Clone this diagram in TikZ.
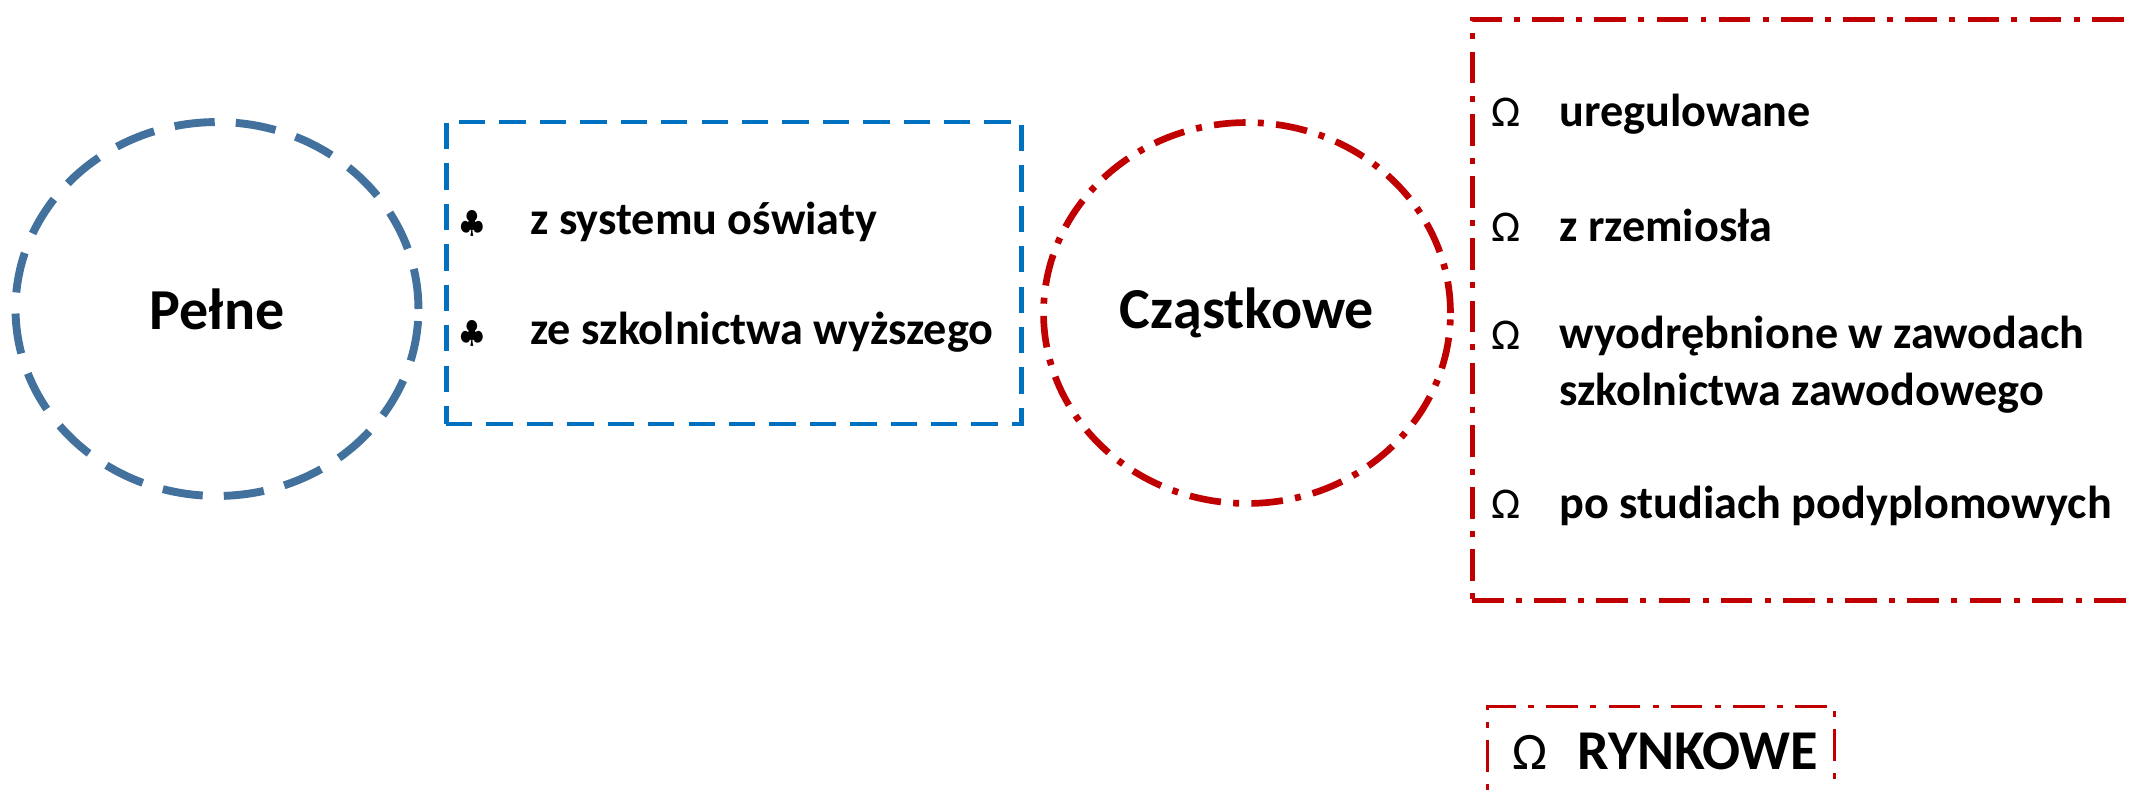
\documentclass[tikz,border=0pt]{standalone}
\usepackage{fontspec}
\setmainfont{Carlito}
\usetikzlibrary{positioning,shapes.geometric}
\definecolor{circblue}{RGB}{65,113,156}
\definecolor{boxblue}{RGB}{0,112,192}
\definecolor{darkred}{RGB}{192,0,0}

\begin{document}
\begin{tikzpicture}[x=0.02cm, y=-0.02cm,
    head/.style={font=\fontsize{33}{40}\selectfont\bfseries},
    item/.style={font=\fontsize{26.3}{32}\selectfont\bfseries, anchor=base west, align=left, inner sep=0pt},
    omark/.style={font=\fontsize{25}{30}\selectfont, anchor=base},
    cmark/.style={font=\fontsize{18}{22}\selectfont, anchor=base},
    reddash/.style={draw=darkred, dash pattern=on 18pt off 7pt on 3.4pt off 7pt}]
    \useasboundingbox (0,0) rectangle (2131,791);
    \clip (0,0) rectangle (2131,791);

    % full qualifications
    \node[ellipse, draw=circblue, line width=4.5pt, dash pattern=on 23pt off 12pt,
          minimum width=8.06cm, minimum height=7.48cm, head] (full) at (217,309) {Pełne};
    \node[rectangle, draw=boxblue, line width=2.8pt, dash pattern=on 15pt off 8pt,
          minimum width=11.52cm, minimum height=6.04cm] (fullbox) at (734,273) {};
    \node[cmark] (c1) at (472,232) {$\clubsuit$};
    \node[item] (school) at (530,234) {z systemu oświaty};
    \node[cmark] (c2) at (472,342) {$\clubsuit$};
    \node[item] (higher) at (530,344) {ze szkolnictwa wyższego};

    % partial qualifications
    \node[ellipse, reddash, line width=3.8pt,
          minimum width=8.14cm, minimum height=7.62cm, head] (part) at (1247,313) {Cząstkowe};
    \node[rectangle, reddash, line width=2.8pt,
          minimum width=13.76cm, minimum height=11.64cm] (partbox) at (1816,310) {};
    \node[omark] (o1) at (1506,126) {Ω};
    \node[item] (regulated) at (1559,126) {uregulowane};
    \node[omark] (o2) at (1506,241) {Ω};
    \node[item] (craft) at (1559,241) {z rzemiosła};
    \node[omark] (o3) at (1506,349) {Ω};
    % base of a two-line node is its last line
    \node[item] (vocational) at (1559,405) {wyodrębnione w zawodach\\szkolnictwa zawodowego};
    \node[omark] (o4) at (1506,518) {Ω};
    \node[item] (postgrad) at (1559,518) {po studiach podyplomowych};

    % market qualifications
    \node[rectangle, reddash, line width=2.2pt,
          minimum width=6.94cm, minimum height=2.86cm] (marketbox) at (1661,778) {};
    \node[omark, font=\fontsize{30}{36}\selectfont] (o5) at (1530,769) {Ω};
    \node[item, font=\fontsize{32}{38}\selectfont\bfseries] (market) at (1577,769) {RYNKOWE};
\end{tikzpicture}
\end{document}
